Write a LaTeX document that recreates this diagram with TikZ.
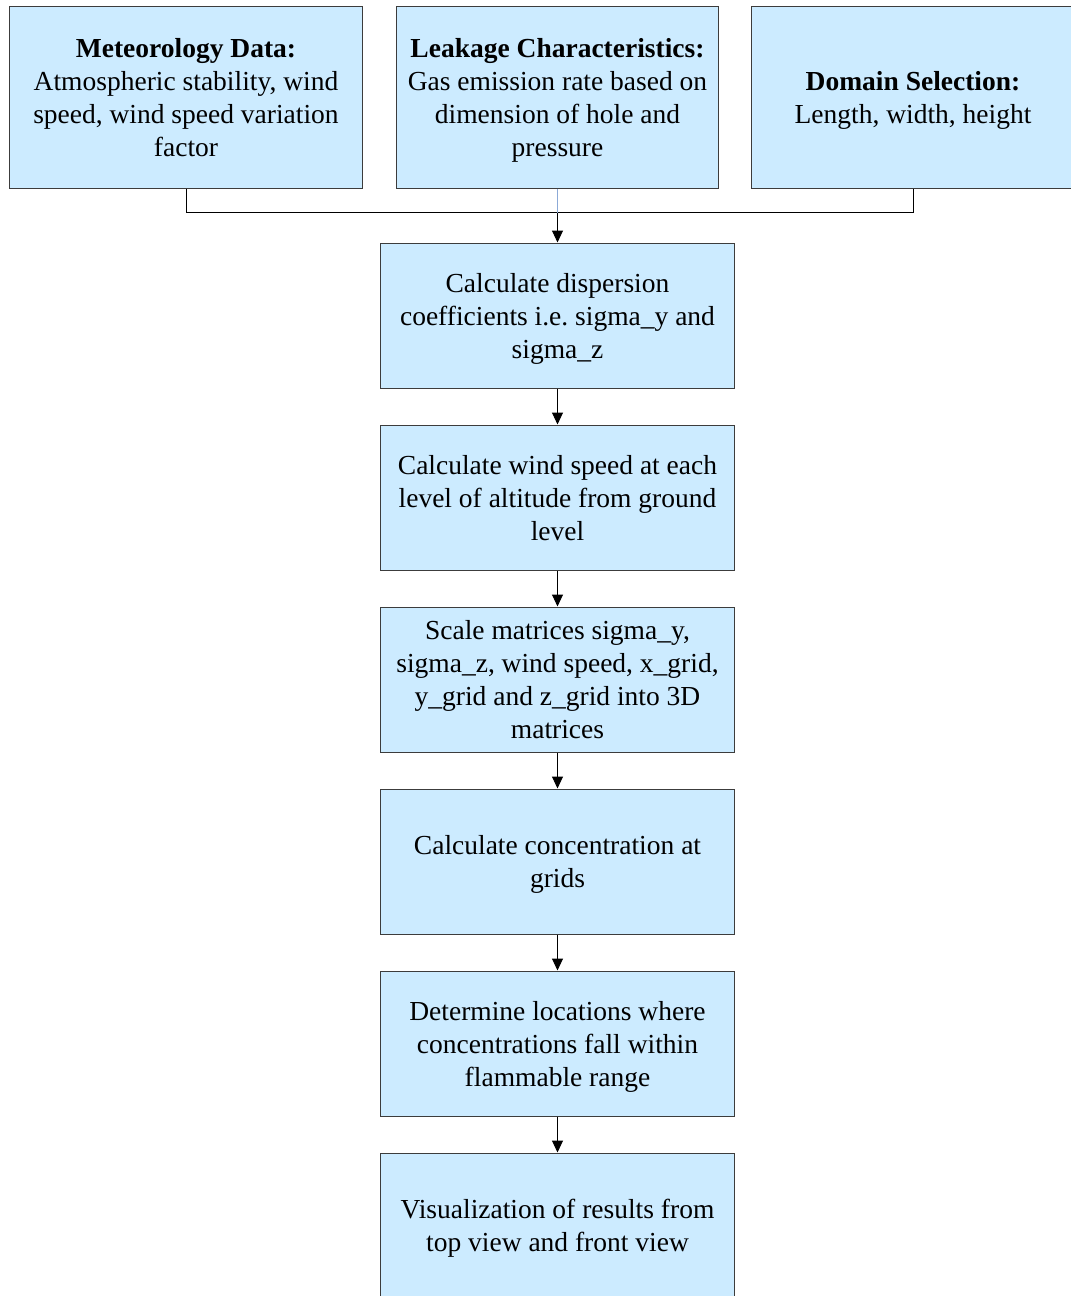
\documentclass[tikz,border=0pt]{standalone}
\usepackage{fontspec}
\setmainfont{Liberation Serif}
\usetikzlibrary{arrows.meta, positioning}
\definecolor{boxblue}{RGB}{204,235,255}
\definecolor{boxline}{RGB}{60,60,60}
\definecolor{linkblue}{RGB}{140,170,215}
\frenchspacing

\begin{document}
\begin{tikzpicture}[x=1pt, y=-1pt,
	every node/.style={font=\fontsize{27.5}{33}\selectfont},
	even lines/.style={execute at begin node={\rule{0pt}{26pt}}, execute at end node={\rule[-6.5pt]{0pt}{0pt}}},
	inbox/.style={draw=boxline, fill=boxblue, line width=1pt, align=flush center, inner sep=0pt, even lines, minimum height=182pt},
	stepbox/.style={draw=boxline, fill=boxblue, line width=1pt, align=flush center, inner sep=0pt, even lines, text width=345pt, minimum width=354pt, minimum height=145pt},
	link/.style={black, line width=1pt},
	arr/.style={link, -{Triangle[length=12pt,width=11pt]}}]
		\useasboundingbox (0,0) rectangle (1071,1296);
		\clip (0,0) rectangle (1071,1296);
		% input boxes
		\node[inbox, text width=340pt, minimum width=353pt] (met) at (186,97) {\textbf{Meteorology Data:}\\Atmospheric stability, wind\\speed, wind speed variation\\factor};
		\node[inbox, text width=315pt, minimum width=322pt] (leak) at (557.5,97) {\textbf{Leakage Characteristics:}\\Gas emission rate based on\\dimension of hole and\\pressure};
		\node[inbox, text width=315pt, minimum width=323pt] (dom) at (913,97) {\textbf{Domain Selection:}\\Length, width, height};
		% processing steps
		\node[stepbox] (calc) at (557.5,315.5) {Calculate dispersion\\coefficients i.e. sigma\_y and\\sigma\_z};
		\node[stepbox, below=36pt of calc] (wind) {Calculate wind speed at each\\level of altitude from ground\\level};
		\node[stepbox, below=36pt of wind] (scale) {Scale matrices sigma\_y,\\sigma\_z, wind speed, x\_grid,\\y\_grid and z\_grid into 3D\\matrices};
		\node[stepbox, below=36pt of scale] (conc) {Calculate concentration at\\grids};
		\node[stepbox, below=36pt of conc] (flam) {Determine locations where\\concentrations fall within\\flammable range};
		\node[stepbox, below=36pt of flam] (vis) {Visualization of results from\\top view and front view};
		% connectors
		\coordinate (join) at (557.5,212.5);
		\draw[link] (met.south) |- (join) -| (dom.south);
		\draw[linkblue, line width=1pt] (leak.south) -- (join);
		\draw[arr] (join) -- (calc);
		\foreach \a/\b in {calc/wind,wind/scale,scale/conc,conc/flam,flam/vis}{\draw[arr] (\a) -- (\b);}
	\end{tikzpicture}
\end{document}
